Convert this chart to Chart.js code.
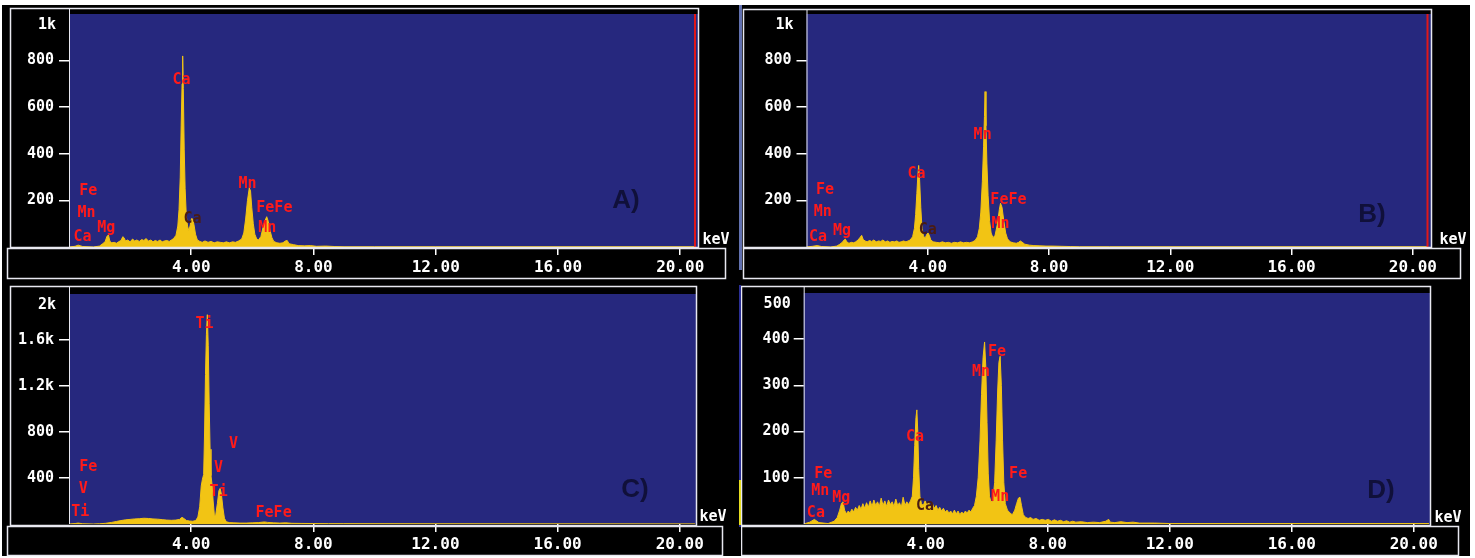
<!DOCTYPE html>
<html>
<head>
<meta charset="utf-8">
<script src="https://cdn.jsdelivr.net/npm/chart.js@4.4.0/dist/chart.umd.min.js"></script>
<style>
html, body { margin: 0; padding: 0; background: #fff; }
#page { position: relative; width: 1475px; height: 558px; overflow: hidden; background: #fff; }
#fondo { position: absolute; left: 2px; top: 5px; width: 1468px; height: 551px; background: #000; }
#sepArriba { position: absolute; left: 739px; top: 5px; width: 3px; height: 265px; background: #6271b0; }
#sepAbajo { position: absolute; left: 739px; top: 285px; width: 2px; height: 242px; background: #2b2f96; }
#sepAmarillo { position: absolute; left: 739px; top: 480px; width: 3px; height: 45px; background: #e6dc20; }
.panel { position: absolute; }
.panel canvas { display: block; }
</style>
</head>
<body>
<div id="page">
    <div id="fondo"></div>
    <div id="sepArriba"></div>
    <div id="sepAbajo"></div>
    <div id="sepAmarillo"></div>
    <div class="panel" style="left:0;top:0;width:737px;height:280px"><canvas id="chartA"></canvas></div>
    <div class="panel" style="left:741px;top:0;width:734px;height:280px"><canvas id="chartB"></canvas></div>
    <div class="panel" style="left:0;top:280px;width:737px;height:278px"><canvas id="chartC"></canvas></div>
    <div class="panel" style="left:741px;top:280px;width:734px;height:278px"><canvas id="chartD"></canvas></div>
</div>
<script>
// ===== DATOS =====
const xTicks = [4, 8, 12, 16, 20];
const xMax = 20.5;

// espectro A: [keV, cuentas]
const spectrumA = [
    [0, 0], [0.2, 3], [0.3, 8], [0.45, 2], [0.8, 0], [1.0, 4], [1.1, 14], [1.18, 22], [1.24, 45], [1.29, 52],
    [1.34, 24], [1.4, 18], [1.48, 20], [1.55, 16], [1.62, 22], [1.7, 28], [1.76, 44], [1.8, 40], [1.85, 26], [1.92, 30],
    [2.0, 22], [2.08, 34], [2.15, 26], [2.22, 30], [2.3, 24], [2.38, 32], [2.45, 28], [2.52, 36], [2.6, 26], [2.68, 30],
    [2.75, 22], [2.82, 28], [2.9, 24], [2.98, 30], [3.05, 22], [3.12, 26], [3.2, 28], [3.28, 24], [3.35, 30], [3.42, 36],
    [3.5, 50], [3.56, 90], [3.6, 160], [3.64, 300], [3.67, 520], [3.7, 700], [3.72, 820], [3.74, 680], [3.77, 420], [3.8, 250],
    [3.84, 130], [3.88, 90], [3.92, 70], [3.96, 90], [4.01, 122], [4.05, 120], [4.09, 95], [4.14, 55], [4.2, 30], [4.28, 24],
    [4.36, 20], [4.45, 26], [4.55, 20], [4.65, 24], [4.75, 18], [4.85, 22], [4.95, 20], [5.05, 18], [5.15, 22], [5.25, 18],
    [5.35, 22], [5.45, 20], [5.55, 26], [5.65, 34], [5.72, 60], [5.78, 120], [5.84, 200], [5.9, 254], [5.94, 240], [5.98, 170],
    [6.03, 100], [6.08, 55], [6.14, 35], [6.2, 30], [6.28, 45], [6.36, 90], [6.42, 115], [6.47, 130], [6.52, 110], [6.58, 70],
    [6.64, 40], [6.7, 24], [6.8, 18], [6.9, 16], [7.0, 18], [7.08, 26], [7.14, 28], [7.2, 14], [7.35, 10], [7.5, 6],
    [7.7, 5], [7.9, 6], [8.1, 3], [8.4, 4], [8.7, 2], [9.0, 1], [10.0, 1], [12.0, 1], [20.5, 1]
];
const yTicksA = [200, 400, 600, 800];
const yMaxA = 1000;
const labelsA = [
    ['Ca', 3.68, 717], ['Fe', 0.63, 242], ['Mn', 0.57, 146], ['Mg', 1.22, 79], ['Ca', 0.44, 42],
    ['Mn', 5.84, 271], ['FeFe', 6.72, 167], ['Mn', 6.49, 79]
];
const darkLabelsA = [['Ca', 4.04, 121]];

// espectro B
const spectrumB = [
    [0, 0], [0.2, 3], [0.35, 6], [0.5, 2], [0.8, 0], [1.0, 4], [1.1, 12], [1.18, 20], [1.24, 30], [1.28, 34],
    [1.33, 22], [1.4, 16], [1.48, 20], [1.55, 18], [1.62, 22], [1.7, 30], [1.76, 40], [1.82, 50], [1.87, 32], [1.93, 26],
    [2.0, 22], [2.08, 28], [2.15, 24], [2.22, 30], [2.3, 22], [2.38, 26], [2.45, 24], [2.52, 30], [2.6, 22], [2.68, 26],
    [2.75, 20], [2.82, 24], [2.9, 22], [2.98, 26], [3.05, 20], [3.12, 22], [3.2, 26], [3.28, 22], [3.35, 26], [3.42, 30],
    [3.5, 44], [3.56, 80], [3.6, 140], [3.64, 230], [3.67, 300], [3.7, 350], [3.73, 290], [3.77, 170], [3.81, 80], [3.86, 45],
    [3.92, 40], [3.97, 55], [4.01, 60], [4.05, 50], [4.1, 30], [4.18, 22], [4.28, 20], [4.38, 18], [4.48, 22], [4.58, 18],
    [4.68, 20], [4.78, 16], [4.88, 20], [4.98, 18], [5.08, 22], [5.18, 18], [5.28, 20], [5.38, 18], [5.48, 22], [5.56, 28],
    [5.64, 44], [5.7, 80], [5.75, 150], [5.8, 280], [5.84, 430], [5.87, 560], [5.89, 667], [5.92, 520], [5.95, 360], [5.99, 220],
    [6.04, 110], [6.09, 60], [6.15, 40], [6.22, 50], [6.3, 100], [6.36, 160], [6.4, 188], [6.45, 170], [6.51, 110], [6.57, 60],
    [6.63, 35], [6.72, 22], [6.82, 18], [6.92, 16], [7.0, 20], [7.05, 26], [7.1, 22], [7.2, 12], [7.35, 8], [7.5, 6],
    [7.7, 5], [7.9, 4], [8.1, 4], [8.4, 3], [8.7, 2], [9.0, 1], [10.0, 1], [20.5, 1]
];
const yTicksB = [200, 400, 600, 800];
const yMaxB = 1000;
const labelsB = [
    ['Ca', 3.63, 312], ['Mn', 5.81, 479], ['Fe', 0.61, 246], ['Mn', 0.54, 150], ['Ca', 0.38, 42],
    ['Mg', 1.17, 67], ['FeFe', 6.66, 200], ['Mn', 6.4, 100]
];
const darkLabelsB = [['Ca', 4.0, 71]];

// espectro C
const spectrumC = [
    [0, 0], [0.2, 4], [0.3, 8], [0.45, 2], [0.8, 0], [1.0, 2], [1.2, 6], [1.4, 14], [1.55, 22], [1.7, 30],
    [1.85, 36], [2.0, 40], [2.15, 44], [2.3, 46], [2.45, 50], [2.6, 48], [2.75, 44], [2.9, 42], [3.05, 38], [3.2, 34],
    [3.35, 32], [3.5, 34], [3.62, 40], [3.7, 58], [3.76, 48], [3.85, 30], [3.95, 26], [4.05, 24], [4.15, 30], [4.22, 60],
    [4.28, 150], [4.33, 330], [4.37, 390], [4.41, 430], [4.44, 800], [4.47, 1300], [4.5, 1650], [4.53, 1820], [4.56, 1550], [4.59, 1050],
    [4.62, 650], [4.65, 420], [4.69, 330], [4.72, 200], [4.76, 80], [4.8, 70], [4.86, 180], [4.91, 290], [4.95, 310], [4.99, 260],
    [5.04, 140], [5.09, 50], [5.15, 20], [5.25, 12], [5.4, 10], [5.6, 8], [5.8, 8], [6.0, 10], [6.2, 12], [6.4, 18],
    [6.5, 14], [6.7, 10], [6.9, 8], [7.1, 10], [7.3, 6], [7.6, 5], [8.0, 4], [8.5, 3], [9.0, 3], [12.0, 2], [20.5, 1]
];
const yTicksC = [400, 800, 1200, 1600];
const yMaxC = 2000;
const labelsC = [
    ['Ti', 4.44, 1735], ['V', 5.39, 691], ['V', 4.9, 488], ['Ti', 4.9, 278], ['Fe', 0.63, 497],
    ['V', 0.47, 303], ['Ti', 0.37, 101], ['FeFe', 6.7, 93]
];
const darkLabelsC = [];

// espectro D
const spectrumD = [
    [0, 0], [0.2, 4], [0.35, 10], [0.5, 3], [0.8, 1], [1.0, 6], [1.1, 14], [1.18, 30], [1.24, 45], [1.29, 48],
    [1.34, 30], [1.4, 22], [1.46, 28], [1.52, 24], [1.58, 32], [1.64, 26], [1.7, 36], [1.76, 30], [1.82, 40], [1.88, 32],
    [1.94, 44], [2.0, 34], [2.06, 46], [2.12, 36], [2.18, 50], [2.24, 38], [2.3, 52], [2.36, 40], [2.42, 48], [2.48, 38],
    [2.54, 56], [2.6, 40], [2.66, 50], [2.72, 38], [2.78, 52], [2.84, 42], [2.9, 48], [2.96, 38], [3.02, 54], [3.08, 40],
    [3.14, 46], [3.2, 36], [3.26, 58], [3.32, 40], [3.38, 48], [3.44, 42], [3.5, 50], [3.56, 60], [3.6, 100], [3.64, 170],
    [3.68, 230], [3.71, 247], [3.74, 200], [3.77, 120], [3.81, 60], [3.86, 44], [3.92, 40], [3.98, 50], [4.04, 42], [4.1, 46],
    [4.16, 36], [4.22, 44], [4.28, 34], [4.34, 40], [4.4, 30], [4.46, 36], [4.52, 28], [4.58, 34], [4.64, 26], [4.7, 30],
    [4.76, 24], [4.82, 28], [4.88, 22], [4.94, 30], [5.0, 22], [5.06, 28], [5.12, 20], [5.18, 26], [5.24, 22], [5.3, 28],
    [5.36, 24], [5.42, 30], [5.48, 26], [5.54, 34], [5.6, 40], [5.66, 60], [5.72, 100], [5.78, 180], [5.83, 280], [5.88, 360],
    [5.93, 394], [5.97, 340], [6.01, 220], [6.05, 110], [6.09, 60], [6.14, 48], [6.2, 50], [6.26, 90], [6.31, 180], [6.36, 290],
    [6.4, 350], [6.44, 363], [6.48, 300], [6.52, 180], [6.56, 90], [6.61, 44], [6.68, 30], [6.76, 24], [6.84, 20], [6.92, 30],
    [6.98, 44], [7.04, 56], [7.09, 58], [7.14, 40], [7.2, 20], [7.28, 14], [7.36, 12], [7.44, 14], [7.52, 10], [7.62, 12],
    [7.72, 8], [7.82, 10], [7.92, 8], [8.02, 10], [8.12, 6], [8.22, 9], [8.32, 6], [8.42, 8], [8.52, 5], [8.62, 7],
    [8.72, 4], [8.82, 6], [8.92, 4], [9.1, 5], [9.3, 3], [9.5, 4], [9.7, 3], [9.9, 6], [10.0, 10], [10.05, 4],
    [10.2, 3], [10.4, 5], [10.6, 3], [10.8, 4], [11.0, 2], [11.5, 2], [12.0, 1], [20.5, 1]
];
const yTicksD = [100, 200, 300, 400];
const yMaxD = 500;
const labelsD = [
    ['Fe', 6.34, 373], ['Mn', 5.81, 328], ['Ca', 3.65, 189], ['Fe', 0.64, 109], ['Mn', 0.54, 72],
    ['Mg', 1.23, 57], ['Ca', 0.4, 23], ['Fe', 7.03, 109], ['Mn', 6.44, 59]
];
const darkLabelsD = [['Ca', 3.98, 38]];

// ===== ESTILO =====
const FONDO_AZUL = '#26287e';
const AMARILLO = '#f2c414';
const ROJO = '#ff1a1a';
const MONO = '"DejaVu Sans Mono", monospace';

function formatoK(v) {
    return v >= 1000 ? (v / 1000) + 'k' : String(v);
}

// marco, etiquetas de elementos, keV, letra del panel
const marcoEDS = {
    id: 'marcoEDS',
    beforeDatasetsDraw(chart, args, opts) {
        const { ctx, chartArea: a } = chart;
        ctx.save();
        ctx.fillStyle = FONDO_AZUL;
        ctx.fillRect(a.left, a.top, opts.frame[2] - a.left, a.bottom - a.top);
        ctx.restore();
    },
    afterDraw(chart, args, opts) {
        const { ctx, chartArea: a, scales } = chart;
        const x = scales.x, y = scales.y;
        ctx.save();

        // marcador rojo al final del rango
        if (opts.marker) {
            ctx.strokeStyle = '#e01818';
            ctx.lineWidth = 2;
            ctx.beginPath();
            ctx.moveTo(x.getPixelForValue(xMax) - 0.5, a.top);
            ctx.lineTo(x.getPixelForValue(xMax) - 0.5, a.bottom);
            ctx.stroke();
        }

        // marcos blancos
        ctx.strokeStyle = '#e8e8f0';
        ctx.lineWidth = 1.5;
        const f = opts.frame, s = opts.strip;
        ctx.strokeRect(f[0] + 0.5, f[1] + 0.5, f[2] - f[0], f[3] - f[1]);
        ctx.strokeRect(s[0] + 0.5, s[1] + 0.5, s[2] - s[0], s[3] - s[1]);
        ctx.lineWidth = 1;
        ctx.beginPath();
        ctx.moveTo(a.left + 0.5, f[1]);
        ctx.lineTo(a.left + 0.5, a.bottom);
        ctx.stroke();

        // etiqueta superior del eje y (sin marca)
        ctx.fillStyle = '#ffffff';
        ctx.font = 'bold 15px ' + MONO;
        ctx.textAlign = 'right';
        ctx.textBaseline = 'middle';
        ctx.fillText(formatoK(y.max), a.left - 13, y.getPixelForValue(y.max) + 11);

        // keV
        ctx.textAlign = 'center';
        ctx.fillText('keV', opts.kev[0], opts.kev[1]);

        // elementos
        ctx.font = 'bold 15px ' + MONO;
        ctx.fillStyle = ROJO;
        opts.labels.forEach(l => {
            ctx.fillText(l[0], x.getPixelForValue(l[1]), y.getPixelForValue(l[2]));
        });
        ctx.fillStyle = '#4a1c12';
        opts.darkLabels.forEach(l => {
            ctx.fillText(l[0], x.getPixelForValue(l[1]), y.getPixelForValue(l[2]));
        });

        // letra del panel
        ctx.font = 'bold 26px "Liberation Sans", Arial, sans-serif';
        ctx.fillStyle = '#10103a';
        ctx.fillText(opts.letter, opts.letterPos[0], opts.letterPos[1]);
        ctx.restore();
    }
};

function crearEspectro(idCanvas, datos, yMax, yTicks, cfg) {
    const ctx = document.getElementById(idCanvas).getContext('2d');
    return new Chart(ctx, {
        type: 'line',
        data: {
            datasets: [{
                data: datos.map(p => ({ x: p[0], y: p[1] })),
                borderColor: AMARILLO,
                backgroundColor: AMARILLO,
                borderWidth: 1,
                fill: 'origin',
                tension: 0,
                pointRadius: 0
            }]
        },
        options: {
            responsive: true,
            maintainAspectRatio: false,
            animation: false,
            layout: { padding: cfg.padding },
            plugins: {
                legend: { display: false },
                tooltip: { enabled: false },
                marcoEDS: cfg
            },
            scales: {
                x: {
                    type: 'linear',
                    min: 0,
                    max: xMax,
                    afterBuildTicks: axis => { axis.ticks = xTicks.map(v => ({ value: v })); },
                    afterFit: axis => { axis.height = 30; },
                    border: { display: false },
                    grid: { drawOnChartArea: false, drawTicks: true, tickLength: 8, color: '#ffffff', lineWidth: 1.5 },
                    ticks: {
                        color: '#ffffff',
                        font: { family: MONO, weight: 'bold', size: 16 },
                        padding: 3,
                        maxRotation: 0,
                        autoSkip: false,
                        callback: v => Number(v).toFixed(2)
                    }
                },
                y: {
                    type: 'linear',
                    min: 0,
                    max: yMax,
                    afterBuildTicks: axis => { axis.ticks = yTicks.map(v => ({ value: v })); },
                    afterFit: axis => { axis.width = 60; },
                    border: { display: false },
                    grid: { drawOnChartArea: false, drawTicks: true, tickLength: 10, color: '#ffffff', lineWidth: 1.5 },
                    ticks: {
                        color: '#ffffff',
                        font: { family: MONO, weight: 'bold', size: 15 },
                        padding: cfg.yPad,
                        autoSkip: false,
                        callback: v => formatoK(v)
                    }
                }
            }
        },
        plugins: [marcoEDS]
    });
}

// ===== PANELES =====
crearEspectro('chartA', spectrumA, yMaxA, yTicksA, {
    padding: { left: 9, top: 9, right: 41.5, bottom: 3 }, yPad: 5,
    frame: [10, 8, 698, 247], strip: [7, 248, 725, 278], kev: [716, 240],
    labels: labelsA, darkLabels: darkLabelsA, letter: 'A)', letterPos: [626, 201], marker: true
});
crearEspectro('chartB', spectrumB, yMaxB, yTicksB, {
    padding: { left: 5.5, top: 9, right: 47, bottom: 3 }, yPad: 5,
    frame: [2, 9, 690, 247], strip: [2, 248, 719, 278], kev: [712, 240],
    labels: labelsB, darkLabels: darkLabelsB, letter: 'B)', letterPos: [631, 215], marker: true
});
crearEspectro('chartC', spectrumC, yMaxC, yTicksC, {
    padding: { left: 9, top: 6.5, right: 42, bottom: 4 }, yPad: 5,
    frame: [10, 6, 696, 245], strip: [7, 246, 722, 275], kev: [713, 237],
    labels: labelsC, darkLabels: darkLabelsC, letter: 'C)', letterPos: [635, 210], marker: false
});
crearEspectro('chartD', spectrumD, yMaxD, yTicksD, {
    padding: { left: 2.7, top: 6.5, right: 46, bottom: 4 }, yPad: 4,
    frame: [0, 6, 689, 245], strip: [0, 246, 717, 275], kev: [707, 238],
    labels: labelsD, darkLabels: darkLabelsD, letter: 'D)', letterPos: [640, 211], marker: false
});
</script>
</body>
</html>
